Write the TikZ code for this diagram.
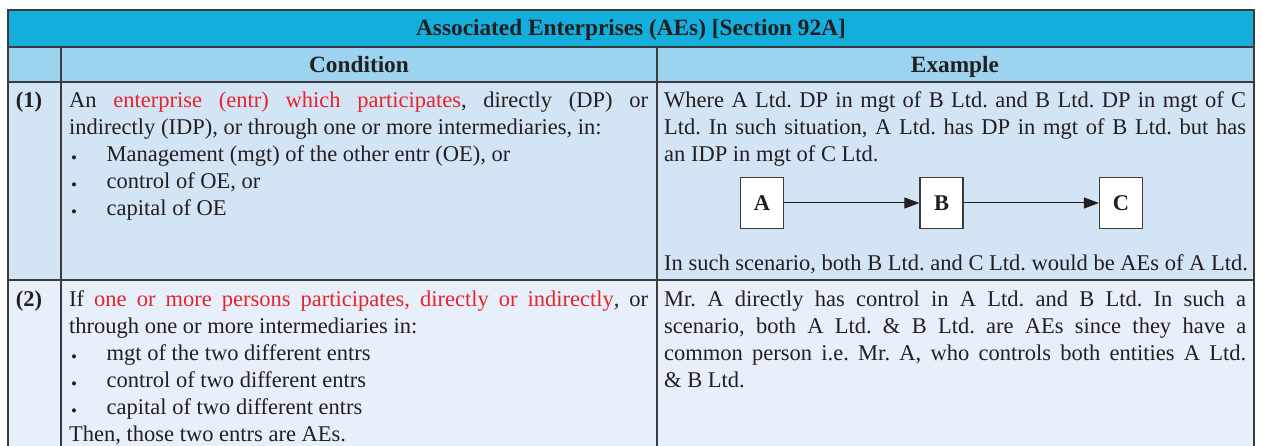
\documentclass[tikz,border=0pt]{standalone}
\usepackage{fontspec}
\setmainfont{Liberation Serif}
\usetikzlibrary{arrows.meta}

\definecolor{ink}{HTML}{231F20}
\definecolor{titlebg}{HTML}{14AEDD}
\definecolor{headbg}{HTML}{9CD3EE}
\definecolor{rowa}{HTML}{D3E4F5}
\definecolor{rowb}{HTML}{E7F0FA}
\definecolor{rulecol}{HTML}{3B3B3B}
\definecolor{hl}{HTML}{E8232B}

\newcommand\hlt[1]{\textcolor{hl}{#1}}
\newcommand\blt{\makebox[37.5pt][l]{\hspace{2pt}\raisebox{-1.5pt}{\fontsize{17}{17}\selectfont •}}}

\tikzset{
  body/.style={font=\fontsize{22.5}{27}\selectfont, text=ink, inner sep=0pt},
  para/.style={body, anchor=base west, align=justify},
  head/.style={font=\fontsize{23.3}{27}\selectfont\bfseries, text=ink, inner sep=0pt, anchor=base},
  rownum/.style={font=\fontsize{22.5}{27}\selectfont\bfseries, text=ink, inner sep=0pt, anchor=base},
  grid/.style={draw=rulecol, line width=1.8pt},
  entity/.style={draw=rulecol, line width=1.2pt, fill=white, minimum width=43pt,
    minimum height=51pt, inner sep=0pt, font=\fontsize{22.5}{22}\selectfont\bfseries, text=ink},
  link/.style={draw=ink, line width=1pt, -{Triangle[length=15pt,width=11pt]}}
}

\begin{document}
\frenchspacing\hyphenpenalty=10000\tolerance=9999
\begin{tikzpicture}[x=1pt,y=-1pt]
\useasboundingbox (0,0) rectangle (1262,446);

% cell backgrounds
\fill[titlebg] (8,10) rectangle (1254,47);
\fill[headbg] (8,47) rectangle (1254,82);
\fill[rowa] (8,82) rectangle (1254,280);
\fill[rowb] (8,280) rectangle (1254,446);

% table rules
\draw[grid] (8,446) -- (8,10) -- (1254,10) -- (1254,446);
\draw[grid] (8,47) -- (1254,47);
\draw[grid] (8,82) -- (1254,82);
\draw[grid] (8,280) -- (1254,280);
\draw[grid] (61,47) -- (61,446);
\draw[grid] (657,47) -- (657,446);

% headings
\node[head] (title) at (631,36) {Associated Enterprises (AEs) [Section 92A]};
\node[head] (hcond) at (359,73) {Condition};
\node[head] (hex) at (955,73) {Example};

% row numbers
\node[rownum] (n1) at (29,108) {(1)};
\node[rownum] (n2) at (29,307) {(2)};

% row 1
\node[para, text width=579pt] (c1) at (69,108) {An \hlt{enterprise (entr) which participates}, directly (DP) or\linebreak
indirectly (IDP), or through one or more intermediaries, in:\\
\blt Management (mgt) of the other entr (OE), or\\
\blt control of OE, or\\
\blt capital of OE};

\node[para, text width=582pt] (e1) at (664,108) {Where A Ltd. DP in mgt of B Ltd. and B Ltd. DP in mgt of C\linebreak
Ltd. In such situation, A Ltd. has DP in mgt of B Ltd. but has\linebreak
an IDP in mgt of C Ltd.};

\node[entity] (A) at (762,203) {A};
\node[entity] (B) at (941.5,203) {B};
\node[entity] (C) at (1121,203) {C};
\draw[link] (A) -- (B);
\draw[link] (B) -- (C);

\node[body, anchor=base west] (e1b) at (664,271) {In such scenario, both B Ltd. and C Ltd. would be AEs of A Ltd.};

% row 2
\node[para, text width=579pt] (c2) at (69,307) {If \hlt{one or more persons participates, directly or indirectly}, or\linebreak
through one or more intermediaries in:\\
\blt mgt of the two different entrs\\
\blt control of two different entrs\\
\blt capital of two different entrs\\
Then, those two entrs are AEs.};

\node[para, text width=582pt] (e2) at (664,307) {Mr. A directly has control in A Ltd. and B Ltd. In such a\linebreak
scenario, both A Ltd. \& B Ltd. are AEs since they have a\linebreak
common person i.e. Mr. A, who controls both entities A Ltd.\linebreak
\& B Ltd.};
\end{tikzpicture}
\end{document}
